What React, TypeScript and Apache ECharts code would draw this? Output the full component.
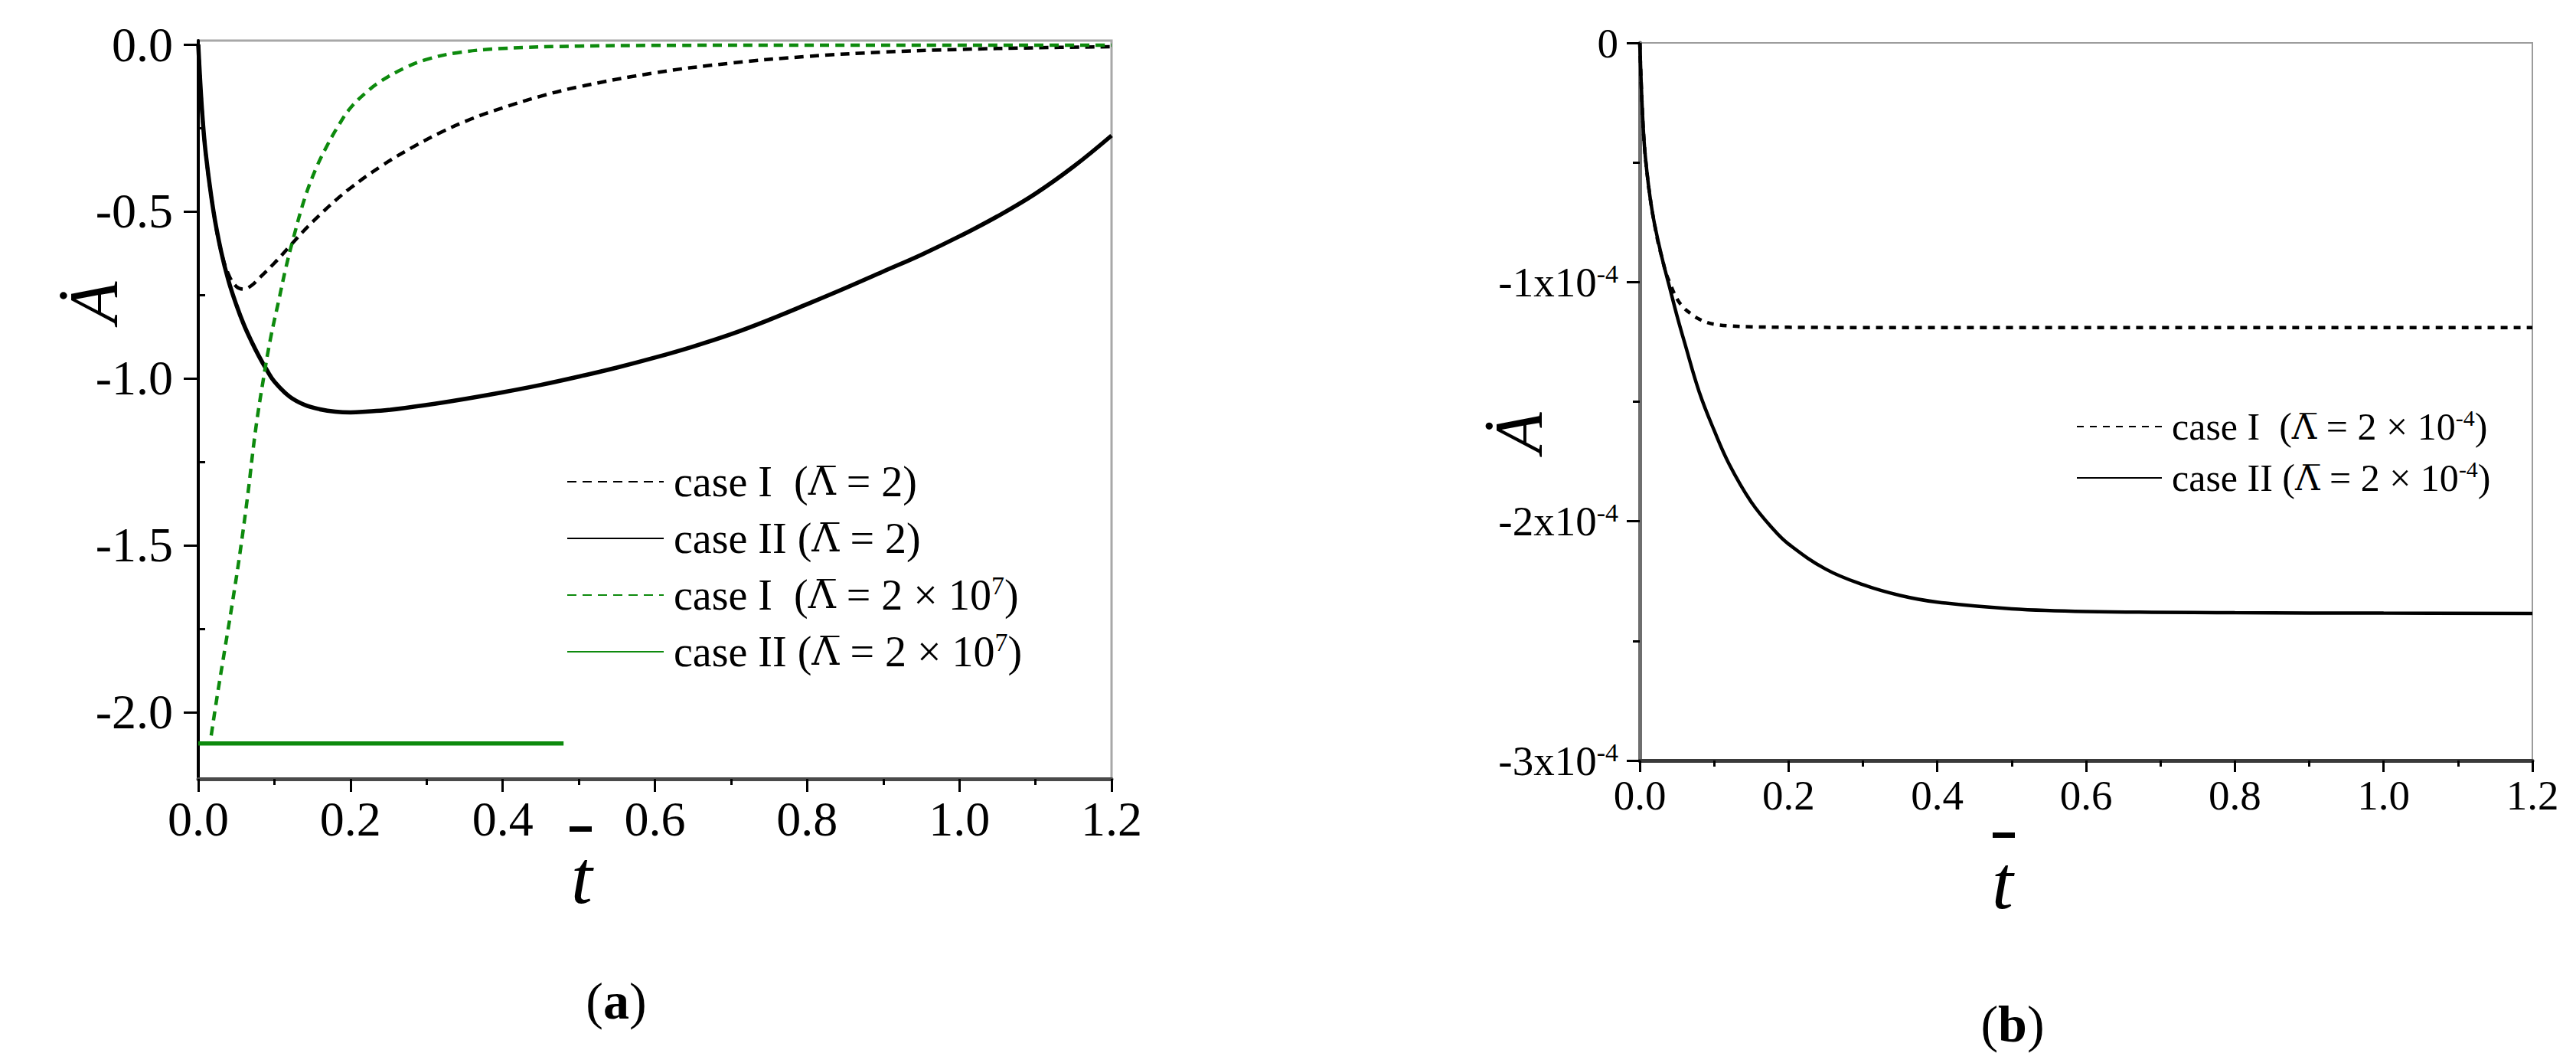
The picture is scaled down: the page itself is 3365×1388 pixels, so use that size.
import React, { useEffect, useRef } from "react";
import * as echarts from "echarts";

const FONT = "'Liberation Serif', 'Times New Roman', Times, serif";
const LAMBDA_FONT = "'DejaVu Serif', 'Liberation Serif', serif";
const GREEN = "#0d8a0d";

// ---------- Panel (a) data ----------
const tCaseI_L2 = [0, 0.005, 0.01, 0.02, 0.03, 0.04, 0.05, 0.06, 0.07, 0.08, 0.1, 0.12, 0.14, 0.16, 0.18, 0.2, 0.24, 0.28, 0.32, 0.36, 0.4, 0.45, 0.5, 0.6, 0.7, 0.8, 0.9, 1.0, 1.1, 1.2];
const vCaseI_L2 = [0, -0.2, -0.33, -0.5, -0.62, -0.69, -0.725, -0.733, -0.722, -0.7, -0.655, -0.605, -0.555, -0.51, -0.468, -0.43, -0.365, -0.31, -0.262, -0.222, -0.19, -0.155, -0.127, -0.085, -0.056, -0.036, -0.023, -0.015, -0.01, -0.007];

const tCaseII_L2 = [0, 0.005, 0.01, 0.02, 0.03, 0.04, 0.05, 0.06, 0.07, 0.08, 0.09, 0.1, 0.12, 0.14, 0.16, 0.18, 0.2, 0.22, 0.25, 0.3, 0.35, 0.4, 0.45, 0.5, 0.55, 0.6, 0.65, 0.7, 0.75, 0.8, 0.85, 0.9, 0.95, 1.0, 1.05, 1.1, 1.15, 1.2];
const vCaseII_L2 = [0, -0.2, -0.33, -0.5, -0.62, -0.71, -0.78, -0.84, -0.89, -0.935, -0.975, -1.01, -1.055, -1.08, -1.093, -1.1, -1.102, -1.1, -1.095, -1.08, -1.062, -1.042, -1.02, -0.995, -0.968, -0.938, -0.905, -0.868, -0.825, -0.778, -0.73, -0.68, -0.63, -0.575, -0.515, -0.447, -0.366, -0.273];

const tCaseI_L2e7 = [0.017, 0.025, 0.035, 0.045, 0.055, 0.065, 0.075, 0.085, 0.095, 0.105, 0.115, 0.125, 0.14, 0.155, 0.17, 0.185, 0.2, 0.22, 0.24, 0.27, 0.3, 0.34, 0.4, 0.5, 0.6, 0.8, 1.0, 1.2];
const vCaseI_L2e7 = [-2.07, -1.95, -1.81, -1.67, -1.52, -1.35, -1.16, -1.01, -0.88, -0.775, -0.67, -0.58, -0.46, -0.37, -0.3, -0.24, -0.19, -0.145, -0.11, -0.072, -0.045, -0.025, -0.012, -0.005, -0.003, -0.002, -0.002, -0.002];

const tCaseII_L2e7 = [0, 0.48];
const vCaseII_L2e7 = [-2.094, -2.094];

const yLabelsA = [0, -0.5, -1.0, -1.5, -2.0];
const yMinorA = [-0.25, -0.75, -1.25, -1.75];

// ---------- Panel (b) data (values in units of 1e-4) ----------
const tCaseI_R = [0, 0.003, 0.006, 0.01, 0.015, 0.02, 0.025, 0.03, 0.035, 0.04, 0.05, 0.06, 0.07, 0.08, 0.09, 0.1, 0.12, 0.15, 0.2, 0.3, 0.5, 0.8, 1.2];
const vCaseI_R = [0, -0.25, -0.42, -0.55, -0.67, -0.76, -0.84, -0.9, -0.96, -1.0, -1.07, -1.11, -1.135, -1.155, -1.168, -1.176, -1.183, -1.187, -1.189, -1.19, -1.19, -1.19, -1.19];

const tCaseII_R = [0, 0.003, 0.006, 0.01, 0.015, 0.02, 0.03, 0.04, 0.05, 0.06, 0.08, 0.1, 0.12, 0.15, 0.18, 0.2, 0.25, 0.3, 0.35, 0.4, 0.5, 0.6, 0.8, 1.0, 1.2];
const vCaseII_R = [0, -0.25, -0.42, -0.55, -0.67, -0.76, -0.9, -1.02, -1.14, -1.25, -1.46, -1.62, -1.76, -1.92, -2.035, -2.095, -2.2, -2.265, -2.31, -2.338, -2.366, -2.377, -2.382, -2.384, -2.385];

const legendA: Record<string, string> = {
  "case I (Λ = 2)": "case I  ({lam|Λ\u0305} = 2)",
  "case II (Λ = 2)": "case II ({lam|Λ\u0305} = 2)",
  "case I (Λ = 2 × 10^7)": "case I  ({lam|Λ\u0305} = 2 × 10{sup|7})",
  "case II (Λ = 2 × 10^7)": "case II ({lam|Λ\u0305} = 2 × 10{sup|7})",
};
const legendB: Record<string, string> = {
  "case I (Λ = 2 × 10^-4)": "case I  ({lam|Λ\u0305} = 2 × 10{sup|-4})",
  "case II (Λ = 2 × 10^-4)": "case II ({lam|Λ\u0305} = 2 × 10{sup|-4})",
};

const zip = (t: number[], v: number[]) => t.map((x, i) => [x, v[i]]);

function buildOption() {
  const axisText = (size: number) => ({ fontFamily: FONT, fontSize: size, color: "#000" });

  const xAxisBase = (gridIndex: number, size: number, margin: number, tickLen: number, lineColor: string) => ({
    type: "value",
    gridIndex,
    min: 0,
    max: 1.2,
    interval: 0.2,
    axisLine: { onZero: false, lineStyle: { color: lineColor, width: 5 } },
    axisTick: { length: tickLen, lineStyle: { color: "#000", width: 3 } },
    minorTick: { show: true, splitNumber: 2, length: 8, lineStyle: { color: "#000", width: 3 } },
    axisLabel: { ...axisText(size), margin, formatter: (v: number) => v.toFixed(1) },
    splitLine: { show: false },
  });

  const legendText = (size: number, supSize: number, lh: number) => ({
    fontFamily: FONT,
    fontSize: size,
    color: "#000",
    lineHeight: lh,
    padding: [0, 0, 0, 8],
    rich: {
      sup: { fontFamily: FONT, fontSize: supSize, color: "#000", verticalAlign: "top", lineHeight: Math.round(lh / 2) },
      lam: { fontFamily: LAMBDA_FONT, fontSize: Math.round(size * 0.9), color: "#000", lineHeight: lh },
    },
  });

  const line = (name: string, xi: number, yi: number, data: number[][], color: string, width: number, type: any) => ({
    name,
    type: "line",
    xAxisIndex: xi,
    yAxisIndex: yi,
    data,
    symbol: "none",
    smooth: 0.4,
    lineStyle: { color, width, type },
    itemStyle: { color },
  });

  return {
    animation: false,
    backgroundColor: "#fff",
    grid: [
      { left: 259, top: 53, width: 1193, height: 964, show: true, borderColor: "#a8a8a8", borderWidth: 3, backgroundColor: "transparent" },
      { left: 2142, top: 56, width: 1166, height: 937, show: true, borderColor: "#9c9c9c", borderWidth: 2, backgroundColor: "transparent" },
    ],
    xAxis: [xAxisBase(0, 64, 20, 17, "#4a4a4a"), xAxisBase(1, 55, 18, 15, "#3a3a3a")],
    yAxis: [
      {
        type: "value",
        gridIndex: 0,
        min: -2.2,
        max: 0.0115,
        axisLine: { onZero: false, lineStyle: { color: "#000", width: 4 } },
        axisTick: { customValues: yLabelsA, length: 19, lineStyle: { color: "#000", width: 3 } },
        axisLabel: { customValues: yLabelsA, ...axisText(64), margin: 33, formatter: (v: number) => v.toFixed(1) },
        splitLine: { show: false },
      },
      {
        type: "value",
        gridIndex: 0,
        min: -2.2,
        max: 0.0115,
        axisLine: { show: false },
        axisTick: { customValues: yMinorA, length: 9, lineStyle: { color: "#000", width: 3 } },
        axisLabel: { show: false },
        splitLine: { show: false },
      },
      {
        type: "value",
        gridIndex: 1,
        min: -3,
        max: 0,
        interval: 1,
        axisLine: { onZero: false, lineStyle: { color: "#6e6e6e", width: 5 } },
        axisTick: { length: 17, lineStyle: { color: "#000", width: 3 } },
        minorTick: { show: true, splitNumber: 2, length: 9, lineStyle: { color: "#000", width: 3 } },
        axisLabel: {
          ...axisText(55),
          margin: 28,
          formatter: (v: number) => (v === 0 ? "0" : `${Math.round(v)}x10{sup|-4}`),
          rich: { sup: { fontFamily: FONT, fontSize: 34, color: "#000", verticalAlign: "top", padding: [0, 0, 22, 0] } },
        },
        splitLine: { show: false },
      },
    ],
    legend: [
      {
        data: Object.keys(legendA),
        orient: "vertical",
        left: 740,
        top: 599,
        padding: 0,
        itemWidth: 126,
        itemHeight: 14,
        itemGap: 14,
        selectedMode: false,
        itemStyle: { opacity: 0 },
        formatter: (n: string) => legendA[n],
        textStyle: legendText(56, 34, 60),
      },
      {
        data: Object.keys(legendB),
        orient: "vertical",
        left: 2712,
        top: 530,
        padding: 0,
        itemWidth: 111,
        itemHeight: 12,
        itemGap: 13,
        selectedMode: false,
        itemStyle: { opacity: 0 },
        formatter: (n: string) => legendB[n],
        textStyle: legendText(50, 30, 54),
      },
    ],
    series: [
      line("case I (Λ = 2)", 0, 0, zip(tCaseI_L2, vCaseI_L2), "#000", 4.5, [12, 8]),
      line("case II (Λ = 2)", 0, 0, zip(tCaseII_L2, vCaseII_L2), "#000", 5.5, "solid"),
      line("case I (Λ = 2 × 10^7)", 0, 0, zip(tCaseI_L2e7, vCaseI_L2e7), GREEN, 4.5, [12, 8]),
      line("case II (Λ = 2 × 10^7)", 0, 0, zip(tCaseII_L2e7, vCaseII_L2e7), GREEN, 5.5, "solid"),
      line("case I (Λ = 2 × 10^-4)", 1, 2, zip(tCaseI_R, vCaseI_R), "#000", 4.5, [9, 8]),
      line("case II (Λ = 2 × 10^-4)", 1, 2, zip(tCaseII_R, vCaseII_R), "#000", 4.5, "solid"),
    ],
    graphic: [
      // Panel (a) axis titles
      { type: "text", x: 122, y: 395, rotation: Math.PI / 2, style: { text: "\u0226", fontFamily: FONT, fontStyle: "italic", fontSize: 90, fill: "#000", align: "center", verticalAlign: "middle" } },
      { type: "rect", shape: { x: 744, y: 1079, width: 29, height: 7 }, style: { fill: "#000" } },
      { type: "text", x: 760, y: 1145, style: { text: "t", fontFamily: FONT, fontStyle: "italic", fontSize: 100, fill: "#000", align: "center", verticalAlign: "middle" } },
      { type: "text", x: 805, y: 1307, style: { text: "({b|a})", fontFamily: FONT, fontSize: 68, fill: "#000", align: "center", verticalAlign: "middle", rich: { b: { fontFamily: FONT, fontSize: 68, fontWeight: "bold", fill: "#000" } } } },
      // Panel (b) axis titles
      { type: "text", x: 1983, y: 565, rotation: Math.PI / 2, style: { text: "\u0226", fontFamily: FONT, fontStyle: "italic", fontSize: 88, fill: "#000", align: "center", verticalAlign: "middle" } },
      { type: "rect", shape: { x: 2603, y: 1087, width: 29, height: 7 }, style: { fill: "#000" } },
      { type: "text", x: 2616, y: 1152, style: { text: "t", fontFamily: FONT, fontStyle: "italic", fontSize: 100, fill: "#000", align: "center", verticalAlign: "middle" } },
      { type: "text", x: 2629, y: 1337, style: { text: "({b|b})", fontFamily: FONT, fontSize: 68, fill: "#000", align: "center", verticalAlign: "middle", rich: { b: { fontFamily: FONT, fontSize: 68, fontWeight: "bold", fill: "#000" } } } },
    ],
  };
}

export default function App() {
  const ref = useRef<HTMLDivElement>(null);
  useEffect(() => {
    document.body.style.margin = "0";
    if (!ref.current) return;
    const chart = echarts.init(ref.current, null, { renderer: "svg" });
    chart.setOption(buildOption() as any);
    return () => chart.dispose();
  }, []);
  return <div ref={ref} style={{ width: 3365, height: 1388, background: "#fff" }} />;
}
